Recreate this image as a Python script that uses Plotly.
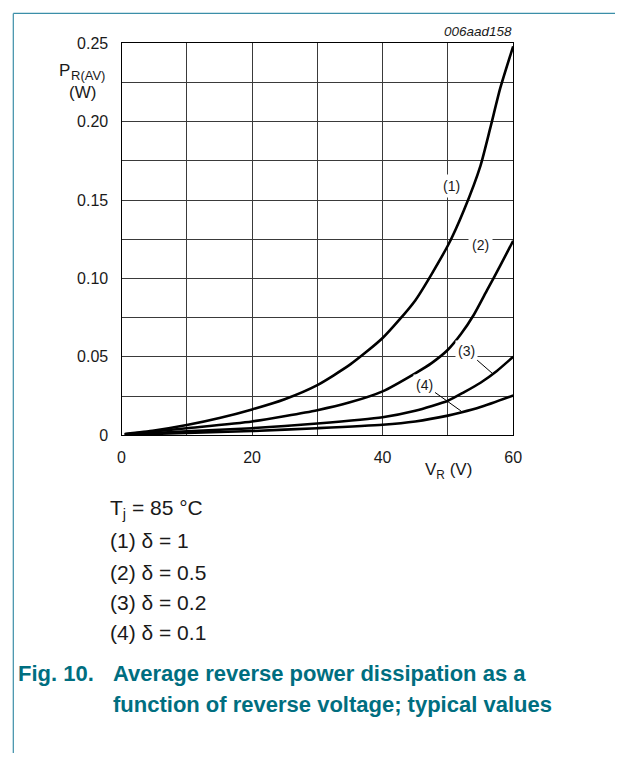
import plotly.graph_objects as go

# ---- data ----
V1 = [0.5, 5, 10, 15, 20, 25, 30, 35, 40, 45, 50, 52.5, 55, 56.5, 58, 60]
P1 = [0.0008, 0.003, 0.0065, 0.011, 0.0165, 0.023, 0.032, 0.045, 0.062, 0.086, 0.121, 0.144, 0.172, 0.196, 0.221, 0.248]

V2 = [0.5, 10, 20, 30, 35, 40, 45, 47.5, 50, 52, 54, 56, 58, 60]
P2 = [0.0006, 0.0045, 0.0088, 0.016, 0.021, 0.028, 0.0395, 0.046, 0.0545, 0.0645, 0.077, 0.0925, 0.108, 0.124]

V3 = [0.5, 10, 20, 30, 40, 45, 50, 52.5, 55, 57.5, 60]
P3 = [0.0004, 0.0025, 0.0045, 0.0075, 0.0115, 0.0156, 0.022, 0.0275, 0.0335, 0.041, 0.050]

V4 = [0.5, 10, 20, 30, 40, 45, 50, 52, 55, 60]
P4 = [0.0003, 0.0015, 0.0027, 0.0045, 0.0067, 0.0088, 0.0125, 0.0145, 0.018, 0.0254]

curve_labels = ["(1)", "(2)", "(3)", "(4)"]
x_tickvals = [0, 20, 40, 60]
y_tickvals = [0, 0.05, 0.10, 0.15, 0.20, 0.25]
y_ticktext = ["0", "0.05", "0.10", "0.15", "0.20", "0.25"]

legend_lines = ["T<sub>j</sub> = 85 °C", "(1) δ = 1", "(2) δ = 0.5", "(3) δ = 0.2", "(4) δ = 0.1"]
caption_num = "Fig. 10."
caption_lines = ["Average reverse power dissipation as a",
                 "function of reverse voltage; typical values"]

W, H = 624, 762
FONT = "Liberation Sans, Arial, sans-serif"
TEAL = "#006e80"
GRID = "#3a3a3a"
INK = "#1a1a1a"

def px(xp):
    return min(max(xp / W, 0), 1)

def py(yp):
    return min(max(1 - yp / H, 0), 1)

fig = go.Figure()
for V, P in [(V1, P1), (V2, P2), (V3, P3), (V4, P4)]:
    fig.add_trace(go.Scatter(x=V, y=P, mode="lines",
                             line=dict(color="black", width=2.6, shape="spline", smoothing=0.6),
                             showlegend=False, hoverinfo="skip"))

fig.update_layout(
    width=W, height=H, margin=dict(l=0, r=0, t=0, b=0),
    paper_bgcolor="white", plot_bgcolor="white",
    font=dict(family=FONT, color=INK, size=16),
    xaxis=dict(domain=[px(120), px(520)], range=[0, 60], tickvals=x_tickvals,
               showgrid=True, gridcolor=GRID, gridwidth=1,
               minor=dict(dtick=10, tick0=0, showgrid=True, gridcolor=GRID, gridwidth=1),
               showline=True, linecolor="black", linewidth=1.2, mirror=True,
               zeroline=False, ticks="", ticklabelstandoff=7,
               tickfont=dict(size=16, family=FONT, color=INK)),
    yaxis=dict(domain=[py(437), py(36)], range=[0, 0.25], tickvals=y_tickvals, ticktext=y_ticktext,
               showgrid=True, gridcolor=GRID, gridwidth=1,
               minor=dict(dtick=0.025, tick0=0, showgrid=True, gridcolor=GRID, gridwidth=1),
               showline=True, linecolor="black", linewidth=1.2, mirror=True,
               zeroline=False, ticks="", ticklabelstandoff=9,
               tickfont=dict(size=16, family=FONT, color=INK)),
)

# page border lines
fig.add_shape(type="line", xref="paper", yref="paper", x0=px(9.5), x1=px(9.5), y0=0, y1=py(5.5),
              line=dict(color="#3b8ea8", width=1.2))
fig.add_shape(type="line", xref="paper", yref="paper", x0=px(9.5), x1=1, y0=py(5.5), y1=py(5.5),
              line=dict(color="#3b8ea8", width=1.2))

# curve labels
lab_font = dict(size=14, family=FONT, color=INK)
fig.add_annotation(x=50.55, y=0.159, text=curve_labels[0], showarrow=False, xanchor="center",
                   bgcolor="white", font=lab_font, borderpad=3)
fig.add_annotation(x=55.05, y=0.121, text=curve_labels[1], showarrow=False, xanchor="center",
                   bgcolor="white", font=lab_font, borderpad=3)
fig.add_annotation(x=V3[9] - 0.7, y=P3[9] - 0.0015, ax=52.8, ay=0.054, axref="x", ayref="y",
                   text=curve_labels[2], showarrow=True, arrowhead=0, arrowwidth=1,
                   arrowcolor="black", bgcolor="white", font=lab_font, borderpad=2)
fig.add_annotation(x=V4[7], y=P4[7] + 0.001, ax=46.35, ay=0.0323, axref="x", ayref="y",
                   text=curve_labels[3], showarrow=True, arrowhead=0, arrowwidth=1,
                   arrowcolor="black", bgcolor="white", font=lab_font, borderpad=2)

# axis titles and code
fig.add_annotation(xref="paper", yref="paper", x=px(54), y=py(63.5), text="P",
                   xanchor="left", yanchor="middle", showarrow=False,
                   font=dict(size=17, family=FONT, color=INK))
fig.add_annotation(xref="paper", yref="paper", x=px(66), y=py(69), text="R(AV)",
                   xanchor="left", yanchor="middle", showarrow=False,
                   font=dict(size=13, family=FONT, color=INK))
fig.add_annotation(xref="paper", yref="paper", x=px(80), y=py(86), text="(W)",
                   xanchor="center", yanchor="middle", showarrow=False,
                   font=dict(size=17, family=FONT, color=INK))
fig.add_annotation(xref="paper", yref="paper", x=px(454), y=py(474), text="V<sub>R</sub> (V)",
                   xanchor="center", yanchor="middle", showarrow=False,
                   font=dict(size=17, family=FONT, color=INK))
fig.add_annotation(xref="paper", yref="paper", x=px(521), y=py(24), text="<i>006aad158</i>",
                   xanchor="right", yanchor="middle", showarrow=False,
                   font=dict(size=13.5, family=FONT, color=INK))

# legend text
leg_y = [512, 545, 577, 608, 639]
for t, yy in zip(legend_lines, leg_y):
    fig.add_annotation(xref="paper", yref="paper", x=px(106), y=py(yy), text=t, xanchor="left",
                       yanchor="middle", showarrow=False, font=dict(size=21, family=FONT, color=INK))

# caption
cap_font = dict(size=22, family=FONT, color=TEAL)
fig.add_annotation(xref="paper", yref="paper", x=px(12), y=py(681), text="<b>" + caption_num + "</b>",
                   xanchor="left", yanchor="middle", showarrow=False, font=cap_font)
for t, yy in zip(caption_lines, [681, 712]):
    fig.add_annotation(xref="paper", yref="paper", x=px(109), y=py(yy), text="<b>" + t + "</b>",
                       xanchor="left", yanchor="middle", showarrow=False, font=cap_font)

fig.write_html("out.html")
